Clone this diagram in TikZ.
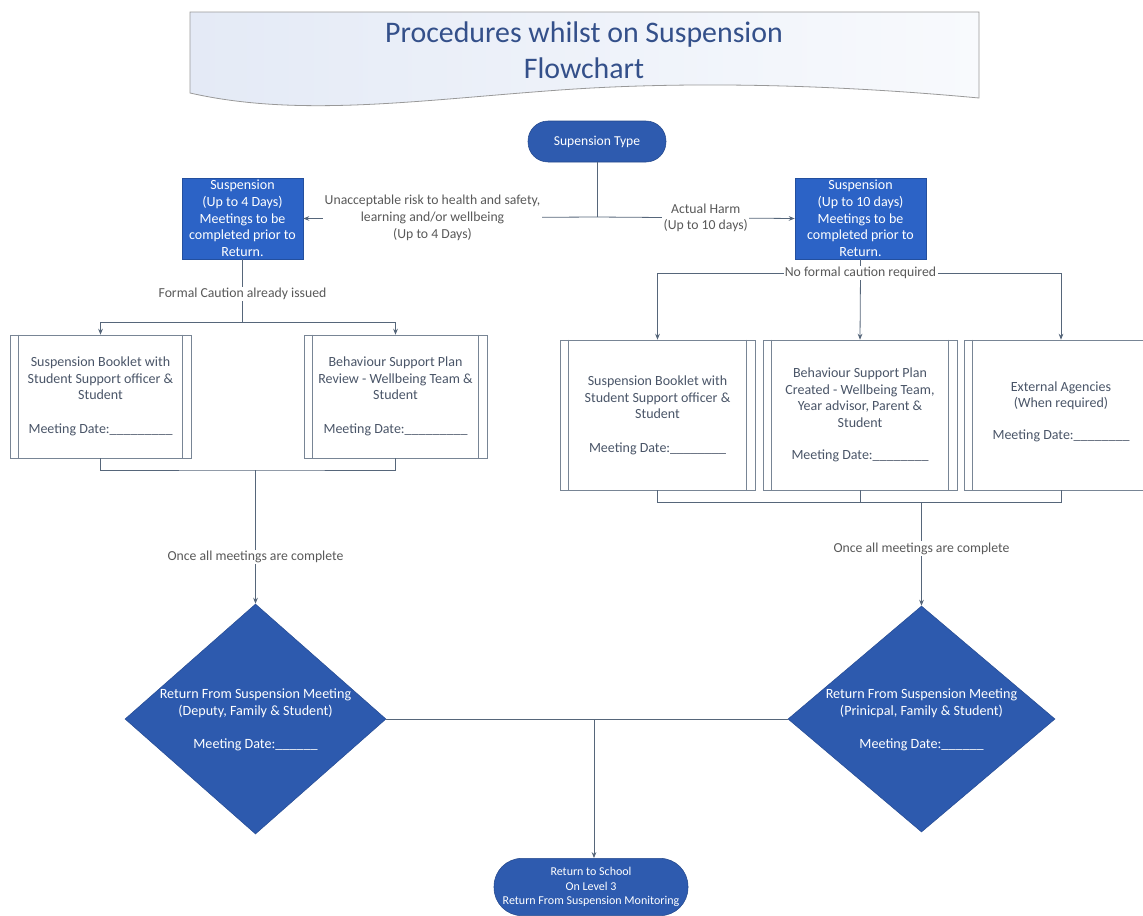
\documentclass[tikz,border=0pt]{standalone}
\usepackage{fontspec}
\setmainfont{Carlito}
\usetikzlibrary{shapes.geometric,arrows.meta,calc}

\definecolor{termblue}{HTML}{2E5BAF}
\definecolor{boxblue}{HTML}{2C63C6}
\definecolor{diablue}{HTML}{2D5AAE}
\definecolor{linegray}{HTML}{56667A}
\definecolor{lblgray}{HTML}{595959}
\definecolor{boxtext}{HTML}{4A5568}
\definecolor{titleblue}{HTML}{34508A}
\definecolor{bannerL}{HTML}{E4EAF6}
\definecolor{bannerR}{HTML}{F8FAFD}

\tikzset{
  every node/.style={font=\fontsize{10.5}{12.5}\selectfont},
  terminal/.style={draw=termblue!80!black, fill=termblue, text=white, rounded corners=15pt,
    minimum width=103.5pt, minimum height=30.75pt, align=center, inner sep=2pt,
    font=\fontsize{10.2}{12.5}\selectfont},
  suspbox/.style={draw=boxblue!80!black, fill=boxblue, text=white, minimum height=60.75pt,
    align=center, inner sep=1pt},
  predef/.style={draw=linegray!80, fill=white, text=boxtext, align=center, inner sep=2pt},
  decision/.style={diamond, draw=diablue!85!black, fill=diablue, inner sep=0pt},
  dtext/.style={text=white, align=center, font=\fontsize{10.6}{12.5}\selectfont},
  lbl/.style={fill=white, text=lblgray, align=center, inner sep=1pt,
    font=\fontsize{10.3}{12.5}\selectfont},
  conn/.style={draw=linegray, line width=0.6pt},
  arr/.style={conn, -{Stealth[length=4.5pt,width=3.5pt]}},
}

% draws the two inner rules of a predefined-process box
\newcommand{\innerrules}[1]{%
  \draw[linegray!80, line width=0.5pt] ($(#1.north west)+(9,0)$) -- ($(#1.south west)+(9,0)$);
  \draw[linegray!80, line width=0.5pt] ($(#1.north east)+(-9,0)$) -- ($(#1.south east)+(-9,0)$);
}

\begin{document}
\begin{tikzpicture}[x=0.75pt, y=-0.75pt]
\useasboundingbox (0,0) rectangle (1143,915);
\begin{scope}
\clip (0,0) rectangle (1143,915);

% title banner (document shape)
\path[left color=bannerL, right color=bannerR, draw=gray!80, line width=0.6pt]
  (190,12) -- (979,12) -- (979,98)
  .. controls (850,86) and (700,80) .. (560,90)
  .. controls (420,100) and (300,118) .. (190,93) -- cycle;
\node[text=titleblue, align=center, font=\fontsize{22.4}{27}\selectfont] (title) at (584,50)
  {Procedures whilst on Suspension\\Flowchart};

% start
\node[terminal] (type) at (597,141.5) {Supension Type};

% suspension kinds
\node[suspbox, minimum width=90.75pt] (s4) at (242.5,218.5)
  {Suspension\\(Up to 4 Days)\\Meetings to be\\completed prior to\\Return.};
\node[suspbox, minimum width=98.25pt] (s10) at (860.5,218.5)
  {Suspension\\(Up to 10 days)\\Meetings to be\\completed prior to\\Return.};

% meetings, short suspension
\node[predef, minimum width=135.75pt, minimum height=92.25pt] (b1) at (100.5,396.5)
  {Suspension Booklet with\\Student Support officer \&\\Student\\[13pt]Meeting Date:\_\_\_\_\_\_\_\_\_};
\node[predef, minimum width=137.25pt, minimum height=92.25pt] (b2) at (395.5,396.5)
  {Behaviour Support Plan\\Review - Wellbeing Team \&\\Student\\[13pt]Meeting Date:\_\_\_\_\_\_\_\_\_};
\innerrules{b1}
\innerrules{b2}

% meetings, long suspension
\node[predef, minimum width=146.25pt, minimum height=112.5pt] (c1) at (657.5,415)
  {Suspension Booklet with\\Student Support officer \&\\Student\\[12.5pt]Meeting Date:\_\_\_\_\_\_\_\_};
\node[predef, minimum width=145.5pt, minimum height=112.5pt] (c2) at (860,415)
  {Behaviour Support Plan\\Created - Wellbeing Team,\\Year advisor, Parent \&\\Student\\[12pt]Meeting Date:\_\_\_\_\_\_\_\_};
\node[predef, minimum width=145.5pt, minimum height=112.5pt] (c3) at (1061,415)
  {\\External Agencies\\(When required)\\[11pt]Meeting Date:\_\_\_\_\_\_\_\_\\};
\innerrules{c1}
\innerrules{c2}
\innerrules{c3}

% return meetings
\node[decision, minimum width=195.75pt, minimum height=172.5pt] (d1) at (255.5,719) {};
\node[dtext] (d1t) at (255.5,720)
  {Return From Suspension Meeting\\(Deputy, Family \& Student)\\[12.5pt]Meeting Date:\_\_\_\_\_\_};
\node[decision, minimum width=200.25pt, minimum height=169.5pt] (d2) at (921.5,719) {};
\node[dtext] (d2t) at (921.5,720)
  {Return From Suspension Meeting\\(Prinicpal, Family \& Student)\\[12.5pt]Meeting Date:\_\_\_\_\_\_};

% end
\node[terminal, minimum width=145.5pt, minimum height=43pt, rounded corners=21pt,
  font=\fontsize{9}{10.8}\selectfont] (end) at (591,887)
  {Return to School\\On Level 3\\Return From Suspension Monitoring};

% connectors: suspension type
\coordinate (split) at (597,217);
\draw[conn] (type.south) -- (split);
\draw[arr] (split) -- node[lbl, pos=0.56]
  {Unacceptable risk to health and safety,\\learning and/or wellbeing\\(Up to 4 Days)} (s4.east);
\draw[arr] (split) -- node[lbl, pos=0.55] {Actual Harm\\(Up to 10 days)} (s10.west);

% connectors: short suspension
\coordinate (lbar) at (242.5,322);
\draw[conn] (s4.south) -- node[lbl, pos=0.55] {Formal Caution already issued} (lbar);
\draw[arr] (lbar) -| (b1.north);
\draw[arr] (lbar) -| (b2.north);
\coordinate (lj) at (255.5,470);
\draw[conn] (b1.south) |- (lj) -| (b2.south);
\draw[arr] (lj) -- node[lbl, pos=0.65] {Once all meetings are complete} (d1.north);

% connectors: long suspension
\coordinate (rbar) at (860.5,273);
\draw[conn] (s10.south) -- (rbar);
\draw[arr] (rbar) -| (c1.north);
\draw[arr] (rbar) -| (c3.north);
\draw[arr] (rbar) -- (c2.north);
\node[lbl] (rlbl) at (rbar) {No formal caution required};
\coordinate (rj) at (921.5,502);
\draw[conn] (c1.south) |- (rj) -| (c3.south);
\draw[conn] (c2.south) -- (c2.south |- rj);
\draw[arr] (rj) -- node[lbl, pos=0.45] {Once all meetings are complete} (d2.north);

% connectors: return to school
\coordinate (mj) at (594,719);
\draw[conn] (d1.east) -- (d2.west);
\draw[arr] (mj) -- (mj |- end.north);
\end{scope}
\end{tikzpicture}
\end{document}
